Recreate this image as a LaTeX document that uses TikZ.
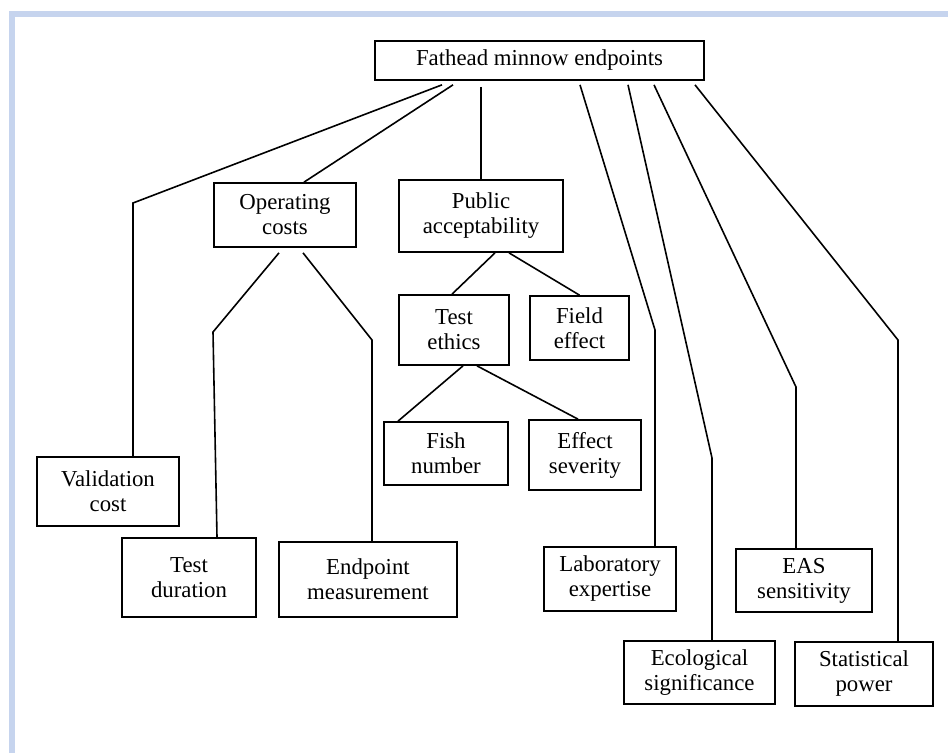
\documentclass[tikz,border=0pt]{standalone}
\usepackage{fontspec}
\setmainfont{Liberation Serif}
\definecolor{framebl}{RGB}{198,212,238}
\begin{document}
\begin{tikzpicture}[x=1pt,y=-1pt]
\tikzstyle{every node}+=[inner sep=0pt]
\tikzstyle{box}=[draw=black, line width=1.7pt, align=center, font=\fontsize{22.8}{25}\selectfont]
\tikzstyle{link}=[black, line width=1.6pt]
\useasboundingbox (0,0) rectangle (948,753);
\fill [framebl] (9,11) rectangle (948,17);
\fill [framebl] (9,11) rectangle (15,753);
\node [box, minimum width=329pt, minimum height=39pt] (top) at (539.5,60.5) {Fathead minnow endpoints};
\node [box, minimum width=142pt, minimum height=64pt] (opcost) at (285,215) {Operating\\costs};
\node [box, minimum width=164pt, minimum height=72pt] (public) at (481,216) {Public\\acceptability};
\node [box, minimum width=110pt, minimum height=70pt] (ethics) at (454,330) {Test\\ethics};
\node [box, minimum width=99pt, minimum height=64pt] (field) at (579.5,328) {Field\\effect};
\node [box, minimum width=124pt, minimum height=63pt] (fish) at (446,453.5) {Fish\\number};
\node [box, minimum width=112pt, minimum height=70pt] (severity) at (585,455) {Effect\\severity};
\node [box, minimum width=142pt, minimum height=69pt] (valid) at (108,491.5) {Validation\\cost};
\node [box, minimum width=134pt, minimum height=79pt] (duration) at (189,577.5) {Test\\duration};
\node [box, minimum width=178pt, minimum height=75pt] (endpt) at (368,579.5) {Endpoint\\measurement};
\node [box, minimum width=132pt, minimum height=64pt] (lab) at (610,579) {Laboratory\\expertise};
\node [box, minimum width=136pt, minimum height=63pt] (eas) at (804,580.5) {EAS\\sensitivity};
\node [box, minimum width=151pt, minimum height=63pt] (eco) at (699.5,672.5) {Ecological\\significance};
\node [box, minimum width=138pt, minimum height=64pt] (stat) at (864,674) {Statistical\\power};
\coordinate (bvalid) at (133,203);
\coordinate (blab) at (655,330);
\coordinate (beco) at (712,458);
\coordinate (beas) at (796,387);
\coordinate (bstat) at (898,340);
\coordinate (bdur) at (213,332);
\coordinate (bendpt) at (372,340);
\draw [link] ([xshift=-97.5pt,yshift=-4pt]top.south) -- (bvalid) -- (bvalid |- valid.north);
\draw [link] ([xshift=-86.5pt,yshift=-4pt]top.south) -- ([xshift=19pt]opcost.north);
\draw [link] ([yshift=-6pt]top.south -| public.north) -- (public.north);
\draw [link] ([xshift=40.5pt,yshift=-4pt]top.south) -- (blab) -- (blab |- lab.north);
\draw [link] ([xshift=88.5pt,yshift=-4pt]top.south) -- (beco) -- (beco |- eco.north);
\draw [link] ([xshift=114.5pt,yshift=-4pt]top.south) -- (beas) -- (beas |- eas.north);
\draw [link] ([xshift=155.5pt,yshift=-4pt]top.south) -- (bstat) -- (bstat |- stat.north);
\draw [link] ([xshift=-6pt,yshift=-5pt]opcost.south) -- (bdur) -- ([xshift=28pt]duration.north);
\draw [link] ([xshift=18pt,yshift=-5pt]opcost.south) -- (bendpt) -- (bendpt |- endpt.north);
\draw [link] ([xshift=14pt]public.south) -- ([xshift=-2pt]ethics.north);
\draw [link] ([xshift=28pt]public.south) -- (field.north);
\draw [link] ([xshift=9pt]ethics.south) -- ([xshift=-48pt]fish.north);
\draw [link] ([xshift=23pt]ethics.south) -- ([xshift=-7pt]severity.north);
\end{tikzpicture}
\end{document}
